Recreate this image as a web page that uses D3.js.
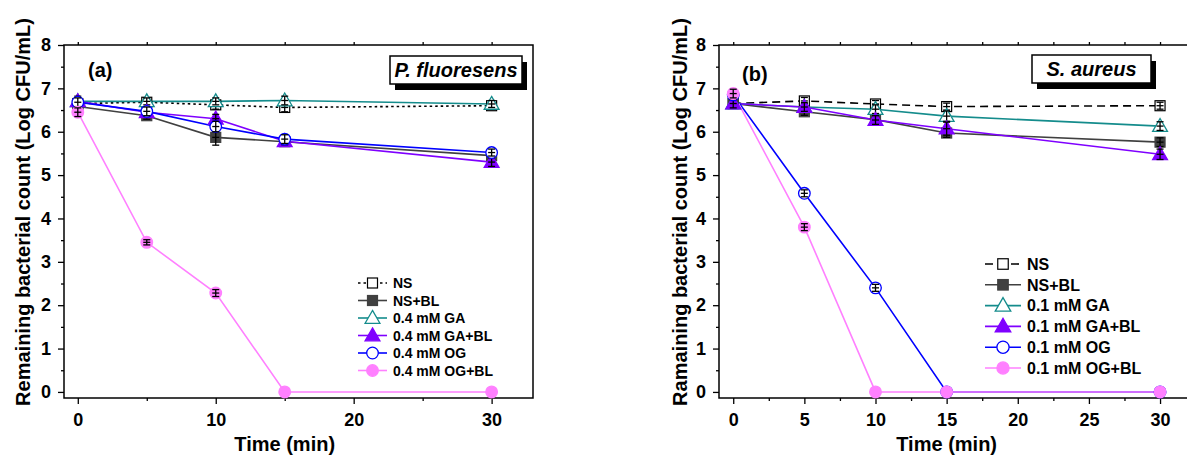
<!DOCTYPE html>
<html>
<head>
<meta charset="utf-8">
<script src="https://cdn.jsdelivr.net/npm/d3@7"></script>
<style>
  body { margin: 0; background: #fff; }
  svg { font-family: "Liberation Sans", Arial, Helvetica, sans-serif; }
</style>
</head>
<body>
<svg id="chart" width="1187" height="459"></svg>
<script>
// sampling times (min)
var times = [0, 5, 10, 15, 30];

// panel (a) P. fluoresens
var labelsA = ['NS', 'NS+BL', '0.4 mM GA', '0.4 mM GA+BL', '0.4 mM OG', '0.4 mM OG+BL'];
var nsA     = [6.65, 6.68, 6.62, 6.56, 6.6];
var nsblA   = [6.58, 6.37, 5.87, 5.77, 5.45];
var gaA     = [6.7, 6.7, 6.7, 6.72, 6.64];
var gablA   = [6.7, 6.45, 6.3, 5.78, 5.3];
var ogA     = [6.68, 6.47, 6.12, 5.83, 5.52];
var ogblA   = [6.45, 3.45, 2.28, 0, 0];
var errA    = [
	[0.08, 0.1, 0.1, 0.1, 0.08],
	[0.1, 0.08, 0.18, 0.08, 0.1],
	[0.08, 0.08, 0.08, 0.1, 0.08],
	[0.12, 0.08, 0.1, 0.08, 0.1],
	[0.1, 0.1, 0.12, 0.1, 0.08],
	[0.1, 0.06, 0.08, 0, 0]
];

// panel (b) S. aureus
var labelsB = ['NS', 'NS+BL', '0.1 mM GA', '0.1 mM GA+BL', '0.1 mM OG', '0.1 mM OG+BL'];
var nsB     = [6.65, 6.71, 6.64, 6.58, 6.6];
var nsblB   = [6.65, 6.46, 6.28, 5.97, 5.76];
var gaB     = [6.65, 6.57, 6.52, 6.36, 6.13];
var gablB   = [6.65, 6.57, 6.27, 6.07, 5.48];
var ogB     = [6.85, 4.58, 2.4, 0, 0];
var ogblB   = [6.88, 3.8, 0, 0, 0];
var errB    = [
	[0.08, 0.08, 0.08, 0.08, 0.08],
	[0.1, 0.08, 0.1, 0.1, 0.1],
	[0.08, 0.08, 0.1, 0.12, 0.1],
	[0.1, 0.1, 0.1, 0.15, 0.12],
	[0.1, 0.08, 0.08, 0, 0],
	[0.1, 0.08, 0, 0, 0]
];

var colors  = ['#000000', '#404040', '#148c8c', '#7f00ff', '#0000ff', '#ff80ff'];
var shapes  = ['square', 'square', 'triangle', 'triangle', 'circle', 'circle'];
var filled  = [false, true, false, true, false, true];

var svg = d3.select('#chart');

function marker(g, shape, fill, color, x, y, k) {
	k = k || 1;
	var f = fill ? color : '#fff';
	if (shape === 'square') {
		var s = 10 * k;
		g.append('rect')
			.attr('x', x - s / 2).attr('y', y - s / 2)
			.attr('width', s).attr('height', s)
			.attr('fill', fill ? '#404040' : '#fff')
			.attr('stroke', fill ? '#404040' : '#000')
			.attr('stroke-width', 1.2);
	} else if (shape === 'triangle') {
		var sym = d3.symbol().type(d3.symbolTriangle).size(95 * k * k);
		g.append('path')
			.attr('d', sym())
			.attr('transform', 'translate(' + x + ',' + (y + 1) + ')')
			.attr('fill', f)
			.attr('stroke', color)
			.attr('stroke-width', 1.3);
	} else {
		g.append('circle')
			.attr('cx', x).attr('cy', y).attr('r', 5.8 * k)
			.attr('fill', f)
			.attr('stroke', color)
			.attr('stroke-width', 1.3);
	}
}

function drawPanel(cfg) {
	var xScale = d3.scaleLinear().domain(cfg.xDomain).range([cfg.left, cfg.right]);
	var yScale = d3.scaleLinear().domain([-0.14, 8]).range([cfg.bottom, cfg.top]);
	var g = svg.append('g');

	// frame
	g.append('rect')
		.attr('x', cfg.left).attr('y', cfg.top)
		.attr('width', cfg.right - cfg.left).attr('height', cfg.bottom - cfg.top)
		.attr('fill', 'none').attr('stroke', '#000').attr('stroke-width', 1.5);

	// x axis
	var xAxis = d3.axisBottom(xScale).tickValues(cfg.xTicks).tickSize(6).tickPadding(9)
		.tickFormat(d3.format('d'));
	var gx = g.append('g').attr('transform', 'translate(0,' + cfg.bottom + ')').call(xAxis);
	var gxm = g.append('g').attr('transform', 'translate(0,' + cfg.bottom + ')')
		.call(d3.axisBottom(xScale).tickValues(cfg.xMinor).tickSize(3).tickFormat(''));
	var gxt = g.append('g').attr('transform', 'translate(0,' + cfg.top + ')')
		.call(d3.axisTop(xScale).tickValues(cfg.xTicks.concat(cfg.xMinor)).tickSize(3).tickFormat(''));

	// y axis
	var yAxis = d3.axisLeft(yScale).tickValues(d3.range(0, 9)).tickSize(6).tickPadding(7);
	var gy = g.append('g').attr('transform', 'translate(' + cfg.left + ',0)').call(yAxis);
	var gym = g.append('g').attr('transform', 'translate(' + cfg.left + ',0)')
		.call(d3.axisLeft(yScale).tickValues(d3.range(0.5, 8, 1)).tickSize(3).tickFormat(''));

	[gx, gxm, gxt, gy, gym].forEach(function(a) {
		a.select('.domain').remove();
		a.selectAll('line').attr('stroke', '#000').attr('stroke-width', 1.3);
	});
	[gx, gy].forEach(function(a) {
		a.selectAll('text')
			.attr('fill', '#000')
			.style('font-size', '18px')
			.style('font-weight', 'bold')
			.style('font-family', '"Liberation Sans", Arial, sans-serif');
	});

	// axis titles
	g.append('text')
		.attr('x', (xScale(0) + xScale(30)) / 2).attr('y', 451)
		.attr('text-anchor', 'middle')
		.style('font-size', '20px').style('font-weight', 'bold')
		.text('Time (min)');
	g.append('text')
		.attr('transform', 'translate(' + cfg.yLabelX + ',' + 212 + ') rotate(-90)')
		.attr('text-anchor', 'middle')
		.style('font-size', '20px').style('font-weight', 'bold')
		.text(cfg.yLabel);

	// series
	var line = d3.line()
		.x(function(d) { return xScale(d[0]); })
		.y(function(d) { return yScale(d[1]); });

	cfg.series.forEach(function(vals, i) {
		var pts = times.map(function(t, j) { return [t, vals[j]]; });
		g.append('path')
			.attr('d', line(pts))
			.attr('fill', 'none')
			.attr('stroke', colors[i])
			.attr('stroke-width', 1.6)
			.attr('stroke-dasharray', i === 0 ? cfg.nsDash : null);
	});

	cfg.series.forEach(function(vals, i) {
		times.forEach(function(t, j) {
			var x = xScale(t), y = yScale(vals[j]);
			marker(g, shapes[i], filled[i], colors[i], x, y);
			var e = cfg.err[i][j];
			if (e > 0) {
				var y1 = yScale(vals[j] + e), y2 = yScale(vals[j] - e);
				g.append('line').attr('x1', x).attr('x2', x).attr('y1', y1).attr('y2', y2)
					.attr('stroke', '#000').attr('stroke-width', 1.3);
				[y1, y2, y].forEach(function(yy) {
					g.append('line').attr('x1', x - 3.5).attr('x2', x + 3.5).attr('y1', yy).attr('y2', yy)
						.attr('stroke', '#000').attr('stroke-width', 1.3);
				});
			}
		});
	});

	// panel letter
	g.append('text')
		.attr('x', cfg.letterX).attr('y', cfg.letterY)
		.style('font-size', '20px').style('font-weight', 'bold')
		.text(cfg.letter);

	// organism box with shadow
	var b = cfg.box;
	g.append('rect')
		.attr('x', b[0] + 5).attr('y', b[1] + 6).attr('width', b[2]).attr('height', b[3])
		.attr('fill', '#000');
	g.append('rect')
		.attr('x', b[0]).attr('y', b[1]).attr('width', b[2]).attr('height', b[3])
		.attr('fill', '#fff').attr('stroke', '#000').attr('stroke-width', 1.5);
	g.append('text')
		.attr('x', b[0] + b[2] / 2).attr('y', b[1] + b[3] / 2 + 7)
		.attr('text-anchor', 'middle')
		.style('font-size', '20px').style('font-weight', 'bold').style('font-style', 'italic')
		.text(cfg.organism);

	// legend
	var lg = cfg.legend;
	cfg.labels.forEach(function(lab, i) {
		var y = lg.y0 + i * lg.dy;
		g.append('line')
			.attr('x1', lg.x0).attr('x2', lg.x1).attr('y1', y).attr('y2', y)
			.attr('stroke', colors[i]).attr('stroke-width', 1.6)
			.attr('stroke-dasharray', i === 0 ? cfg.nsDash : null);
		marker(g, shapes[i], filled[i], colors[i], (lg.x0 + lg.x1) / 2, y, lg.k);
		g.append('text')
			.attr('x', lg.tx).attr('y', y + lg.fs * 0.36)
			.style('font-size', lg.fs + 'px').style('font-weight', 'bold')
			.text(lab);
	});
}

drawPanel({
	left: 64, right: 533, top: 45, bottom: 398,
	xDomain: [-1, 33], xTicks: [0, 10, 20, 30], xMinor: [5, 15, 25],
	yLabel: 'Remaining bacterial count (Log CFU/mL)', yLabelX: 30,
	series: [nsA, nsblA, gaA, gablA, ogA, ogblA], err: errA, labels: labelsA,
	nsDash: '2.5,3',
	letter: '(a)', letterX: 88, letterY: 77,
	organism: 'P. fluoresens', box: [390, 56, 132, 28],
	legend: { x0: 358, x1: 387, tx: 393, y0: 283, dy: 17.5, fs: 14, k: 1 }
});

drawPanel({
	left: 719, right: 1188.5, top: 45, bottom: 398,
	xDomain: [-1, 32], xTicks: [0, 5, 10, 15, 20, 25, 30], xMinor: [2.5, 7.5, 12.5, 17.5, 22.5, 27.5],
	yLabel: 'Ramaining bacterial count (Log CFU/mL)', yLabelX: 687,
	series: [nsB, nsblB, gaB, gablB, ogB, ogblB], err: errB, labels: labelsB,
	nsDash: '8,5',
	letter: '(b)', letterX: 742, letterY: 81,
	organism: 'S. aureus', box: [1032, 55, 119, 28],
	legend: { x0: 985, x1: 1021, tx: 1027, y0: 264, dy: 20.8, fs: 16, k: 1.05 }
});
</script>
</body>
</html>
